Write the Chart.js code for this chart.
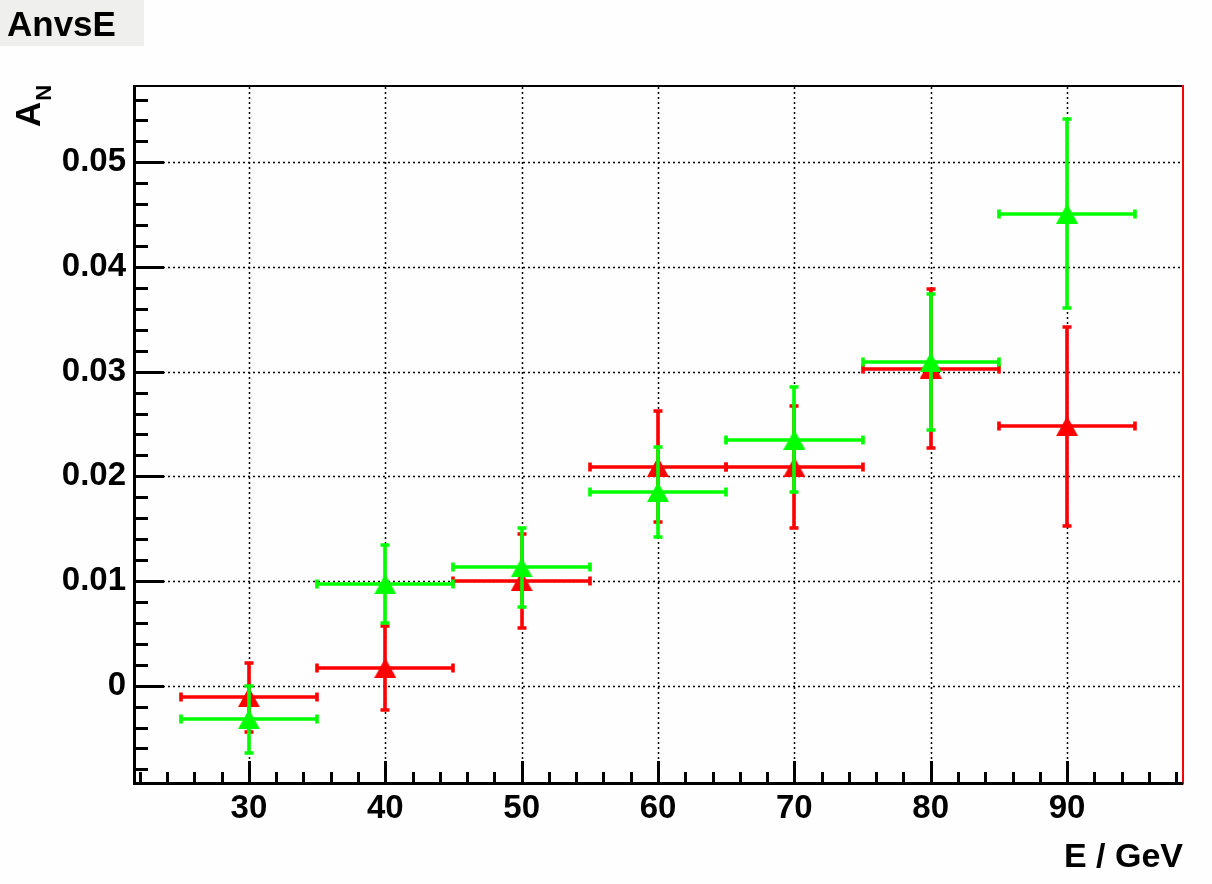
<!DOCTYPE html>
<html><head><meta charset="utf-8">
<script src="https://cdn.jsdelivr.net/npm/chart.js@4/dist/chart.umd.min.js"></script>
<style>html,body{margin:0;padding:0;background:#fefefe;} #wrap{width:1212px;height:884px;position:relative;}</style>
</head><body><div id="wrap"><canvas id="c"></canvas></div>
<script>
// ---- data ----
const energies = [30, 40, 50, 60, 70, 80, 90];
const energyHalfWidth = [5, 5, 5, 5, 5, 5, 5];
const redAN = [-0.0011, 0.0017, 0.0100, 0.0209, 0.0209, 0.0303, 0.0248];
const redErr = [0.0033, 0.0040, 0.0045, 0.0053, 0.0058, 0.0076, 0.0095];
const greenAN = [-0.0032, 0.0097, 0.0113, 0.0185, 0.0235, 0.0309, 0.0451];
const greenErr = [0.0032, 0.0037, 0.0038, 0.0043, 0.0050, 0.0065, 0.0090];
const xTickValues = [30, 40, 50, 60, 70, 80, 90];
const yTickValues = [0, 0.01, 0.02, 0.03, 0.04, 0.05];
const chartTitle = 'AnvsE';
const xTitle = 'E / GeV';
const yTitleMain = 'A';
const yTitleSub = 'N';

const FONT = "'Liberation Sans', Arial, Helvetica, sans-serif";

function triangleMarker(color) {
  const c = document.createElement('canvas');
  c.width = 22; c.height = 20;
  const g = c.getContext('2d');
  g.fillStyle = color;
  g.beginPath();
  g.moveTo(0, 20); g.lineTo(11, 0); g.lineTo(22, 20); g.closePath();
  g.fill();
  return c;
}

function toPoints(xs, ys) { return xs.map((x, i) => ({ x: x, y: ys[i] })); }
const snap = v => Math.round(v) + 0.5;
const snapEven = v => Math.round(v);

const errorBarPlugin = {
  id: 'errorBars',
  beforeDatasetDraw(chart, args) {
    const ds = chart.data.datasets[args.index];
    const xs = chart.scales.x, ys = chart.scales.y, ctx = chart.ctx;
    ctx.save();
    ctx.strokeStyle = ds.errColor;
    ctx.lineWidth = 3.6;
    ctx.lineCap = 'butt';
    const cap = 4.5;
    ds.data.forEach((p, i) => {
      const px = snapEven(xs.getPixelForValue(p.x));
      const py = snapEven(ys.getPixelForValue(p.y));
      const x0 = snapEven(xs.getPixelForValue(p.x - ds.errX[i]));
      const x1 = snapEven(xs.getPixelForValue(p.x + ds.errX[i]));
      const y0 = snapEven(ys.getPixelForValue(p.y - ds.errY[i]));
      const y1 = snapEven(ys.getPixelForValue(p.y + ds.errY[i]));
      ctx.beginPath();
      ctx.moveTo(x0, py); ctx.lineTo(x1, py);
      ctx.moveTo(px, y0); ctx.lineTo(px, y1);
      ctx.moveTo(x0, py - cap); ctx.lineTo(x0, py + cap);
      ctx.moveTo(x1, py - cap); ctx.lineTo(x1, py + cap);
      ctx.moveTo(px - cap, y0); ctx.lineTo(px + cap, y0);
      ctx.moveTo(px - cap, y1); ctx.lineTo(px + cap, y1);
      ctx.stroke();
    });
    ctx.restore();
  }
};

const framePlugin = {
  id: 'rootFrame',
  beforeDraw(chart) {
    const ctx = chart.ctx;
    ctx.save();
    ctx.fillStyle = '#fefefe';
    ctx.fillRect(0, 0, chart.width, chart.height);
    ctx.fillStyle = '#eff0ee';
    ctx.fillRect(0, 0, 144, 46);
    ctx.fillStyle = '#000';
    ctx.font = 'bold 35px ' + FONT;
    ctx.textBaseline = 'alphabetic';
    ctx.textAlign = 'left';
    ctx.fillText(chartTitle, 7, 36);
    ctx.restore();
  },
  beforeDatasetsDraw(chart) {
    const ctx = chart.ctx, a = chart.chartArea;
    const xs = chart.scales.x, ys = chart.scales.y;
    ctx.save();
    ctx.strokeStyle = '#000';
    ctx.lineWidth = 1.5;
    ctx.setLineDash([2, 3]);
    xTickValues.forEach(v => {
      const px = Math.round(xs.getPixelForValue(v)) + 0.5;
      ctx.beginPath(); ctx.moveTo(px, a.top); ctx.lineTo(px, a.bottom); ctx.stroke();
    });
    yTickValues.forEach(v => {
      const py = Math.round(ys.getPixelForValue(v)) + 0.5;
      ctx.beginPath(); ctx.moveTo(a.left, py); ctx.lineTo(a.right, py); ctx.stroke();
    });
    ctx.restore();
  },
  afterDatasetsDraw(chart) {
    const ctx = chart.ctx, a = chart.chartArea;
    const xs = chart.scales.x, ys = chart.scales.y;
    ctx.save();
    ctx.setLineDash([]);
    ctx.strokeStyle = '#000'; ctx.lineWidth = 2;
    ctx.beginPath(); ctx.moveTo(a.left, a.top - 1); ctx.lineTo(a.right, a.top - 1); ctx.stroke();
    ctx.strokeStyle = '#ff0000'; ctx.lineWidth = 2;
    ctx.beginPath(); ctx.moveTo(a.right, a.top - 2); ctx.lineTo(a.right, a.bottom + 1.5); ctx.stroke();
    ctx.strokeStyle = '#000'; ctx.lineWidth = 3;
    ctx.beginPath(); ctx.moveTo(a.left + 1.5, a.top - 2); ctx.lineTo(a.left + 1.5, a.bottom + 1.5); ctx.stroke();
    ctx.beginPath(); ctx.moveTo(a.left, a.bottom + 0.5); ctx.lineTo(a.right, a.bottom + 0.5); ctx.stroke();
    const yMajorLen = 31, yMinorLen = 15;
    for (let k = -4; k <= 28; k++) {
      const v = k * 0.002;
      if (v < ys.min || v > ys.max) continue;
      const py = snap(ys.getPixelForValue(v));
      const len = (k % 5 === 0) ? yMajorLen : yMinorLen;
      ctx.beginPath(); ctx.moveTo(a.left, py); ctx.lineTo(a.left + len, py); ctx.stroke();
    }
    const xMajorLen = 22, xMinorLen = 11;
    for (let v = 22; v <= 98; v += 2) {
      const px = snap(xs.getPixelForValue(v));
      const len = (v % 10 === 0) ? xMajorLen : xMinorLen;
      ctx.beginPath(); ctx.moveTo(px, a.bottom); ctx.lineTo(px, a.bottom - len); ctx.stroke();
    }
    ctx.fillStyle = '#000';
    ctx.font = 'bold 34px ' + FONT;
    ctx.textAlign = 'right';
    ctx.textBaseline = 'alphabetic';
    ctx.fillText(xTitle, a.right, 867);
    ctx.save();
    ctx.translate(40, 127);
    ctx.rotate(-Math.PI / 2);
    ctx.textAlign = 'left';
    ctx.font = 'bold 35px ' + FONT;
    ctx.fillText(yTitleMain, 0, 0);
    const w = ctx.measureText(yTitleMain).width;
    ctx.font = 'bold 22px ' + FONT;
    ctx.fillText(yTitleSub, w + 1, 11);
    ctx.restore();
    ctx.restore();
  }
};

const chart = new Chart(document.getElementById('c'), {
  type: 'scatter',
  data: {
    datasets: [
      {
        label: 'green',
        data: toPoints(energies, greenAN),
        errX: energyHalfWidth, errY: greenErr, errColor: '#00ff00',
        pointStyle: triangleMarker('#00ff00'),
        pointRadius: 11,
        showLine: false
      },
      {
        label: 'red',
        data: toPoints(energies, redAN),
        errX: energyHalfWidth, errY: redErr, errColor: '#ff0000',
        pointStyle: triangleMarker('#ff0000'),
        pointRadius: 11,
        showLine: false
      }
    ]
  },
  options: {
    responsive: true,
    maintainAspectRatio: false,
    animation: false,
    events: [],
    layout: { padding: { top: 87, right: 29, left: 0, bottom: 0 } },
    plugins: { legend: { display: false }, title: { display: false }, tooltip: { enabled: false } },
    scales: {
      x: {
        type: 'linear', min: 21.5, max: 98.5,
        grid: { display: false, drawTicks: false },
        border: { display: false },
        afterBuildTicks: s => { s.ticks = xTickValues.map(v => ({ value: v })); },
        afterFit: s => { s.height = 101; },
        ticks: {
          color: '#000', padding: 6,
          font: { family: FONT, size: 33, weight: 'bold' },
          maxRotation: 0,
          callback: v => String(v)
        }
      },
      y: {
        type: 'linear', min: -0.0093, max: 0.0572,
        grid: { display: false, drawTicks: false },
        border: { display: false },
        afterBuildTicks: s => { s.ticks = yTickValues.map(v => ({ value: v })); },
        afterFit: s => { s.width = 133; },
        ticks: {
          color: '#000', padding: 7,
          font: { family: FONT, size: 33, weight: 'bold' },
          callback: v => (Math.abs(v) < 1e-9 ? '0' : v.toFixed(2))
        }
      }
    }
  },
  plugins: [framePlugin, errorBarPlugin]
});
</script>
</body></html>
